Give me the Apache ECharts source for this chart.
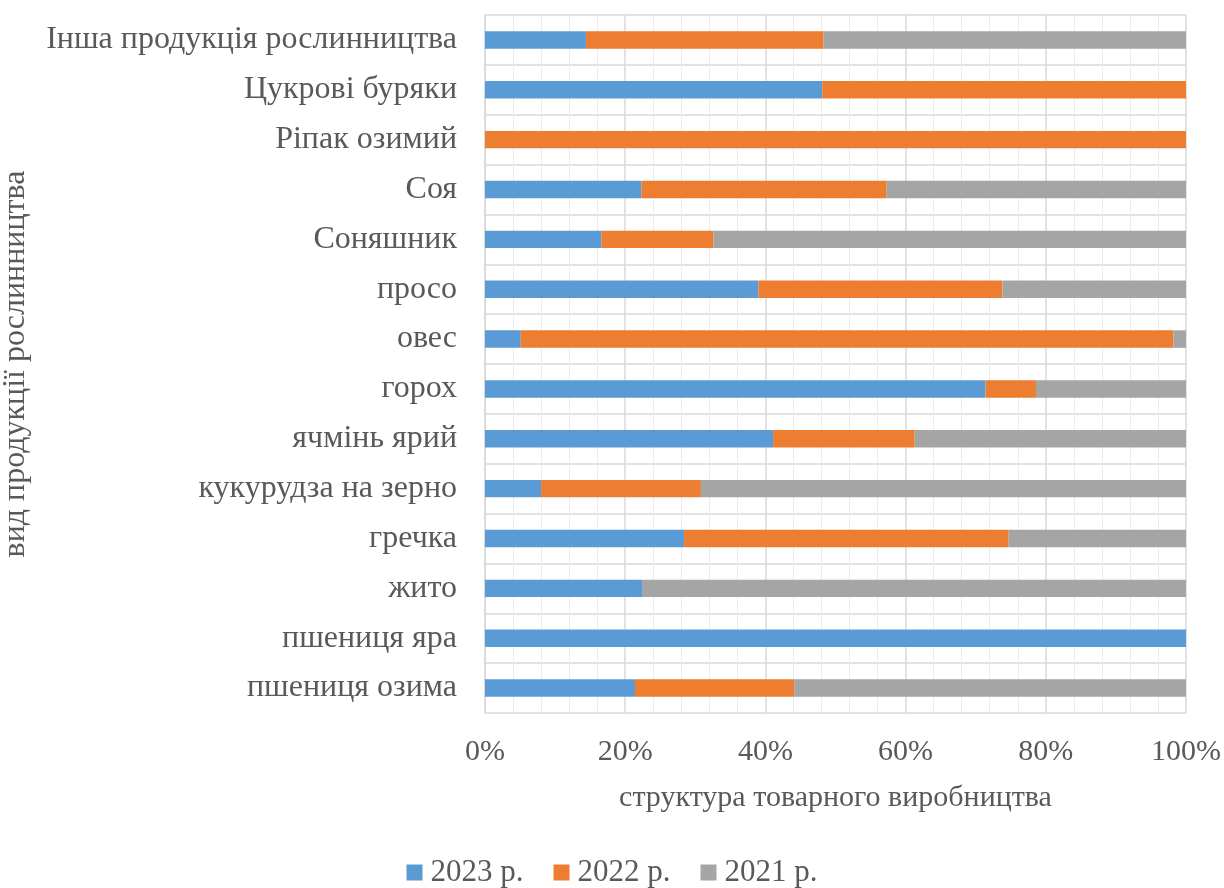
<!DOCTYPE html>
<html>
<head>
<meta charset="utf-8">
<script src="https://cdn.jsdelivr.net/npm/echarts@6/dist/echarts.min.js"></script>
<style>
html,body{margin:0;padding:0;background:#fff;}
#chart{width:1224px;height:888px;}
</style>
</head>
<body>
<div id="chart"></div>
<script>
const categories = ["Інша продукція рослинництва","Цукрові буряки","Ріпак озимий","Соя","Соняшник","просо","овес","горох","ячмінь ярий","кукурудза на зерно","гречка","жито","пшениця яра","пшениця озима"];
const seriesNames = ["2023 р.","2022 р.","2021 р."];
const values2023 = [14.4, 48.1, 0, 22.3, 16.6, 39.0, 5.1, 71.4, 41.1, 8.0, 28.4, 22.4, 100, 21.4];
const values2022 = [33.9, 51.9, 100, 35.0, 16.0, 34.8, 93.1, 7.2, 20.2, 22.8, 46.3, 0, 0, 22.7];
const values2021 = [51.7, 0, 0, 42.7, 67.4, 26.2, 1.8, 21.4, 38.7, 69.2, 25.3, 77.6, 0, 55.9];
const xTicks = [0, 20, 40, 60, 80, 100];

const colors = ["#5b9bd5", "#ed7d31", "#a5a5a5"];
const font = "'Liberation Serif','Times New Roman',serif";
const textColor = "#595959";

const chart = echarts.init(document.getElementById('chart'), null, {renderer:'canvas'});
const allValues = [values2023, values2022, values2021];
chart.setOption({
  animation:false,
  color: colors,
  grid:{left:485, right:38, top:15, bottom:175, containLabel:false, outerBoundsMode:'none'},
  legend:{
    top:852, left:'center',
    itemWidth:16, itemHeight:16, itemGap:30,
    icon:'rect',
    textStyle:{fontFamily:font, fontSize:31, color:textColor, padding:[0,0,0,3]},
    data: seriesNames
  },
  xAxis:{
    type:'value', min:xTicks[0], max:xTicks[xTicks.length-1], interval:20,
    name:'структура товарного виробництва', nameLocation:'middle', nameGap:70,
    nameTextStyle:{fontFamily:font, fontSize:30, color:textColor},
    axisLine:{show:false}, axisTick:{show:false},
    axisLabel:{formatter:'{value}%', fontFamily:font, fontSize:30, color:textColor, margin:24},
    splitLine:{show:true, lineStyle:{color:'#d9d9d9', width:1.5}},
    minorTick:{show:false, splitNumber:5},
    minorSplitLine:{show:true, lineStyle:{color:'#ececec', width:1}}
  },
  yAxis:{
    type:'category', data:categories, inverse:true,
    name:'вид продукції рослинництва', nameLocation:'middle', nameGap:453, nameRotate:90,
    nameTextStyle:{fontFamily:font, fontSize:32, color:textColor},
    axisLine:{show:true, lineStyle:{color:'#d9d9d9', width:1.5}},
    axisTick:{show:false},
    axisLabel:{fontFamily:font, fontSize:32, color:textColor, margin:28},
    splitLine:{show:true, lineStyle:{color:'#d9d9d9', width:1.5}}
  },
  series: seriesNames.map((n,i)=>({
    name:n, type:'bar', stack:'total', barWidth:'35%',
    data: allValues[i],
    itemStyle:{color:colors[i]}
  }))
});
</script>
</body>
</html>
